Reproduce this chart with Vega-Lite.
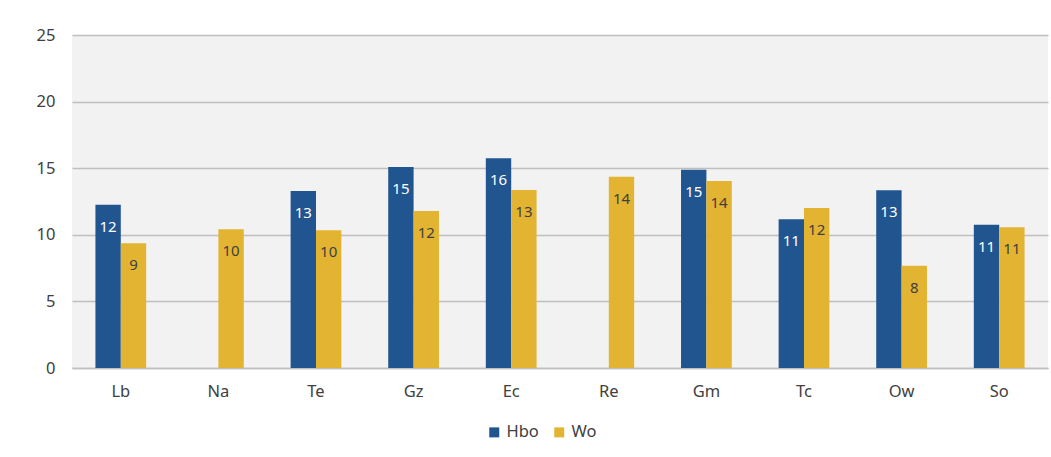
{
  "$schema": "https://vega.github.io/schema/vega-lite/v6.json",
  "width": 976,
  "height": 333,
  "autosize": {"type": "none"},
  "padding": {"left": 72, "top": 35, "right": 3, "bottom": 89},
  "background": "white",
  "config": {
    "view": {"fill": "#f2f2f2", "stroke": null},
    "font": "Noto Sans"
  },
  "data": {
    "values": [
      {"cat": "Lb", "series": "Hbo", "value": 12.26},
      {"cat": "Lb", "series": "Wo", "value": 9.36},
      {"cat": "Na", "series": "Wo", "value": 10.41},
      {"cat": "Te", "series": "Hbo", "value": 13.29},
      {"cat": "Te", "series": "Wo", "value": 10.34},
      {"cat": "Gz", "series": "Hbo", "value": 15.09},
      {"cat": "Gz", "series": "Wo", "value": 11.79},
      {"cat": "Ec", "series": "Hbo", "value": 15.74},
      {"cat": "Ec", "series": "Wo", "value": 13.36},
      {"cat": "Re", "series": "Wo", "value": 14.36},
      {"cat": "Gm", "series": "Hbo", "value": 14.89},
      {"cat": "Gm", "series": "Wo", "value": 14.04},
      {"cat": "Tc", "series": "Hbo", "value": 11.16},
      {"cat": "Tc", "series": "Wo", "value": 12.01},
      {"cat": "Ow", "series": "Hbo", "value": 13.34},
      {"cat": "Ow", "series": "Wo", "value": 7.68},
      {"cat": "So", "series": "Hbo", "value": 10.76},
      {"cat": "So", "series": "Wo", "value": 10.56}
    ]
  },
  "encoding": {
    "x": {
      "field": "cat",
      "type": "nominal",
      "sort": ["Lb", "Na", "Te", "Gz", "Ec", "Re", "Gm", "Tc", "Ow", "So"],
      "scale": {"paddingInner": 0.48, "paddingOuter": 0.24},
      "axis": {
        "title": null,
        "labelAngle": 0,
        "ticks": false,
        "domain": true,
        "domainColor": "#bfbfbf",
        "domainWidth": 1.5,
        "labelFontSize": 16.5,
        "labelColor": "#404040",
        "labelPadding": 15
      }
    },
    "xOffset": {
      "field": "series",
      "type": "nominal",
      "sort": ["Hbo", "Wo"],
      "scale": {"paddingInner": 0, "paddingOuter": 0}
    },
    "y": {
      "field": "value",
      "type": "quantitative",
      "scale": {"domain": [0, 25], "nice": false},
      "axis": {
        "title": null,
        "values": [0, 5, 10, 15, 20, 25],
        "ticks": false,
        "domain": false,
        "gridColor": "#bfbfbf",
        "gridWidth": 1.5,
        "labelFontSize": 16.5,
        "labelColor": "#404040",
        "labelPadding": 17
      }
    }
  },
  "layer": [
    {
      "mark": {"type": "bar"},
      "encoding": {
        "color": {
          "field": "series",
          "type": "nominal",
          "sort": ["Hbo", "Wo"],
          "scale": {"domain": ["Hbo", "Wo"], "range": ["#215590", "#e3b431"]},
          "legend": {
            "title": null,
            "orient": "none",
            "direction": "horizontal",
            "legendX": 414,
            "legendY": 389,
            "symbolType": "square",
            "symbolSize": 100,
            "symbolStrokeWidth": 0,
            "labelFontSize": 16.5,
            "labelColor": "#404040",
            "labelOffset": 4,
            "columnPadding": 12
          }
        }
      }
    },
    {
      "mark": {"type": "text", "baseline": "middle", "align": "center", "dy": 22, "fontSize": 15},
      "encoding": {
        "text": {"field": "value", "type": "quantitative", "format": ".0f"},
        "color": {
          "condition": {"test": "datum.series === 'Hbo'", "value": "white"},
          "value": "#404040"
        }
      }
    }
  ]
}
